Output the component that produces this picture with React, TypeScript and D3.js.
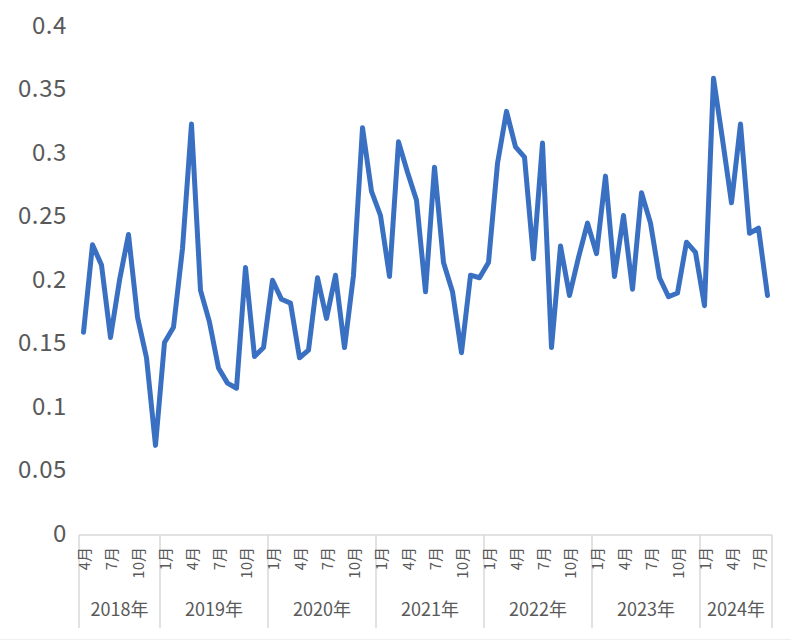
import * as d3 from "d3"
import { useEffect, useRef } from "react"

// months shown per year (data runs 2018/4 .. 2024/8)
const yearLabels = ["2018年", "2019年", "2020年", "2021年", "2022年", "2023年", "2024年"]
const yearMonths = [
  [4, 5, 6, 7, 8, 9, 10, 11, 12],
  [1, 2, 3, 4, 5, 6, 7, 8, 9, 10, 11, 12],
  [1, 2, 3, 4, 5, 6, 7, 8, 9, 10, 11, 12],
  [1, 2, 3, 4, 5, 6, 7, 8, 9, 10, 11, 12],
  [1, 2, 3, 4, 5, 6, 7, 8, 9, 10, 11, 12],
  [1, 2, 3, 4, 5, 6, 7, 8, 9, 10, 11, 12],
  [1, 2, 3, 4, 5, 6, 7, 8],
]
const labelMonths = [1, 4, 7, 10]

const values = [
  0.158, 0.227, 0.211, 0.154, 0.199, 0.235, 0.17, 0.138, 0.069,
  0.15, 0.162, 0.224, 0.322, 0.191, 0.166, 0.13, 0.118, 0.114, 0.209, 0.139, 0.146,
  0.199, 0.184, 0.181, 0.138, 0.144, 0.201, 0.169, 0.203, 0.146, 0.203, 0.319, 0.269,
  0.25, 0.202, 0.308, 0.284, 0.262, 0.19, 0.288, 0.213, 0.19, 0.142, 0.203, 0.201,
  0.213, 0.291, 0.332, 0.304, 0.296, 0.216, 0.307, 0.146, 0.226, 0.187, 0.217, 0.244,
  0.22, 0.281, 0.202, 0.25, 0.192, 0.268, 0.244, 0.201, 0.186, 0.189, 0.229, 0.221,
  0.179, 0.358, 0.31, 0.26, 0.322, 0.236, 0.24, 0.187,
]

const yTicks = [0, 0.05, 0.1, 0.15, 0.2, 0.25, 0.3, 0.35, 0.4]

const WIDTH = 791
const HEIGHT = 641
const FONT = "'Noto Sans CJK JP', 'Noto Sans', sans-serif"

const App = () => {
  const svgRef = useRef<SVGSVGElement>(null)

  useEffect(() => {
    if (!svgRef.current) return
    const svg = d3.select(svgRef.current)
    svg.selectAll("*").remove()

    const points = yearMonths.flatMap((ms, yi) =>
      ms.map((m) => ({ year: yi, month: m })),
    )

    const x = d3
      .scaleBand<number>()
      .domain(d3.range(points.length))
      .range([79, 772])
      .padding(0)
    const cx = (i: number) => (x(i) ?? 0) + x.bandwidth() / 2

    const y = d3.scaleLinear().domain([0, 0.4]).range([533, 25])

    // y labels
    svg
      .append("g")
      .selectAll("text")
      .data(yTicks)
      .join("text")
      .attr("x", 67)
      .attr("y", (d) => y(d))
      .attr("dy", "0.36em")
      .attr("text-anchor", "end")
      .attr("font-family", FONT)
      .attr("font-size", "24px")
      .attr("letter-spacing", "0.6px")
      .attr("fill", "#595959")
      .text((d) => String(d))

    // category axis line
    svg
      .append("line")
      .attr("x1", 79)
      .attr("x2", 772)
      .attr("y1", 535)
      .attr("y2", 535)
      .attr("stroke", "#d9d9d9")
      .attr("stroke-width", 1.5)

    // year separators
    const starts: number[] = []
    let acc = 0
    yearMonths.forEach((ms) => {
      starts.push(acc)
      acc += ms.length
    })
    const bounds = starts.map((s) => x(s) ?? 0).concat([x.range()[1]])
    svg
      .append("g")
      .selectAll("line")
      .data(bounds)
      .join("line")
      .attr("x1", (d) => d)
      .attr("x2", (d) => d)
      .attr("y1", 535)
      .attr("y2", 628)
      .attr("stroke", "#d9d9d9")
      .attr("stroke-width", 1.5)

    // faint bottom border
    svg
      .append("line")
      .attr("x1", 0)
      .attr("x2", WIDTH)
      .attr("y1", 639.5)
      .attr("y2", 639.5)
      .attr("stroke", "#efefef")
      .attr("stroke-width", 1)

    // month labels
    const monthIdx = points
      .map((p, i) => ({ ...p, i }))
      .filter((p) => labelMonths.includes(p.month))
    svg
      .append("g")
      .selectAll("text")
      .data(monthIdx)
      .join("text")
      .attr("transform", (d) => `translate(${cx(d.i) + 6},547) rotate(-90)`)
      .attr("text-anchor", "end")
      .attr("font-family", FONT)
      .attr("font-size", "15px")
      .attr("fill", "#595959")
      .text((d) => `${d.month}月`)

    // year labels
    svg
      .append("g")
      .selectAll("text")
      .data(yearLabels)
      .join("text")
      .attr("x", (_, i) => (bounds[i] + bounds[i + 1]) / 2)
      .attr("y", 616)
      .attr("text-anchor", "middle")
      .attr("font-family", FONT)
      .attr("font-size", "18px")
      .attr("fill", "#595959")
      .text((d) => d)

    // series
    svg
      .append("path")
      .datum(values)
      .attr("fill", "none")
      .attr("stroke", "#3a70c2")
      .attr("stroke-width", 5)
      .attr("stroke-linejoin", "round")
      .attr("stroke-linecap", "round")
      .attr(
        "d",
        d3
          .line<number>()
          .x((_, i) => cx(i))
          .y((d) => y(d)),
      )
  }, [])

  return (
    <svg
      ref={svgRef}
      width={WIDTH}
      height={HEIGHT}
      style={{ position: "absolute", left: 0, top: 0, background: "#fff" }}
    />
  )
}

export default App
